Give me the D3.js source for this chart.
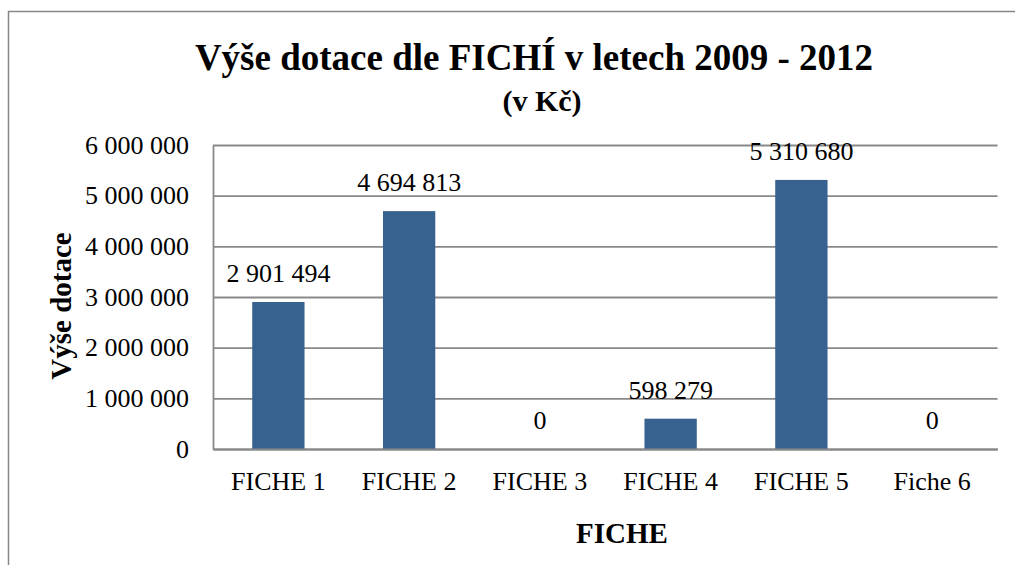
<!DOCTYPE html>
<html><head><meta charset="utf-8">
<script src="https://cdn.jsdelivr.net/npm/d3@7"></script>
<style>html,body{margin:0;padding:0;background:#fff;overflow:hidden}svg text{font-family:'Liberation Serif',serif !important;fill:#000}</style>
</head><body>
<svg id="c" width="1015" height="565" style="font-family:'Liberation Serif',serif"></svg>
<script>
const categories = ["FICHE 1","FICHE 2","FICHE 3","FICHE 4","FICHE 5","Fiche 6"];
const values = [2901494, 4694813, 0, 598279, 5310680, 0];
const yTicks = [0,1000000,2000000,3000000,4000000,5000000,6000000];
const titleText = "Výše dotace dle FICHÍ v letech 2009 - 2012";
const subtitleText = "(v Kč)";
const yTitle = "Výše dotace";
const xTitle = "FICHE";

const FONT = "'Liberation Serif', serif";
const svg = d3.select("#c");
const m = {left:213, top:145, right:997.5, bottom:449};
const fmt = v => d3.format(",")(v).replace(/,/g," ");

svg.append("rect").attr("x",8.5).attr("y",11.5).attr("width",1100).attr("height",700)
  .attr("fill","#fff").attr("stroke","#878787").attr("stroke-width",1.5);

const x = d3.scaleBand().domain(categories).range([m.left,m.right]).paddingInner(0.6).paddingOuter(0.3);
const y = d3.scaleLinear().domain([0,6000000]).range([m.bottom,m.top]);

// gridlines
const gy = svg.append("g").attr("transform",`translate(${m.left},0)`)
  .call(d3.axisLeft(y).tickValues(yTicks).tickSize(-(m.right-m.left)).tickFormat(""));
gy.select(".domain").remove();
gy.selectAll("line").attr("stroke","#898989").attr("stroke-width",1.8);

// y labels
const yl = svg.append("g").attr("transform",`translate(${m.left},0)`)
  .call(d3.axisLeft(y).tickValues(yTicks).tickSize(0).tickPadding(24).tickFormat(fmt));
yl.attr("font-family",null).attr("font-size",null);
yl.select(".domain").attr("stroke","#898989").attr("stroke-width",1.8);
yl.selectAll("text").style("font-size","26px").style("font-family",FONT).attr("fill","#000");

// bars
svg.append("g").selectAll("rect").data(values).join("rect")
  .attr("x",(d,i)=>x(categories[i])).attr("width",x.bandwidth())
  .attr("y",d=>y(d)).attr("height",d=>y(0)-y(d)).attr("fill","#37618f");

// x axis
const xa = svg.append("g").attr("transform",`translate(0,${m.bottom})`)
  .call(d3.axisBottom(x).tickSize(0).tickPadding(23));
xa.attr("font-family",null).attr("font-size",null);
xa.select(".domain").attr("stroke","#898989").attr("stroke-width",1.8);
xa.selectAll("text").style("font-size","26px").style("font-family",FONT).attr("fill","#000");

// data labels
svg.append("g").selectAll("text").data(values).join("text")
  .attr("x",(d,i)=>x(categories[i])+x.bandwidth()/2).attr("y",d=>y(d)-20)
  .attr("text-anchor","middle").style("font-size","26px").style("font-family",FONT).text(fmt);

// titles
svg.append("text").attr("x",534).attr("y",70).attr("text-anchor","middle").style("font-family",FONT)
  .style("font-size","37px").style("font-weight","bold").text(titleText);
svg.append("text").attr("x",542).attr("y",111).attr("text-anchor","middle").style("font-family",FONT)
  .style("font-size","30px").style("font-weight","bold").text(subtitleText);
svg.append("text").attr("transform","translate(71,306) rotate(-90)").attr("text-anchor","middle").style("font-family",FONT)
  .style("font-size","29px").style("font-weight","bold").text(yTitle);
svg.append("text").attr("x",622).attr("y",543).attr("text-anchor","middle").style("font-family",FONT)
  .style("font-size","29px").style("font-weight","bold").text(xTitle);
</script>
</body></html>
